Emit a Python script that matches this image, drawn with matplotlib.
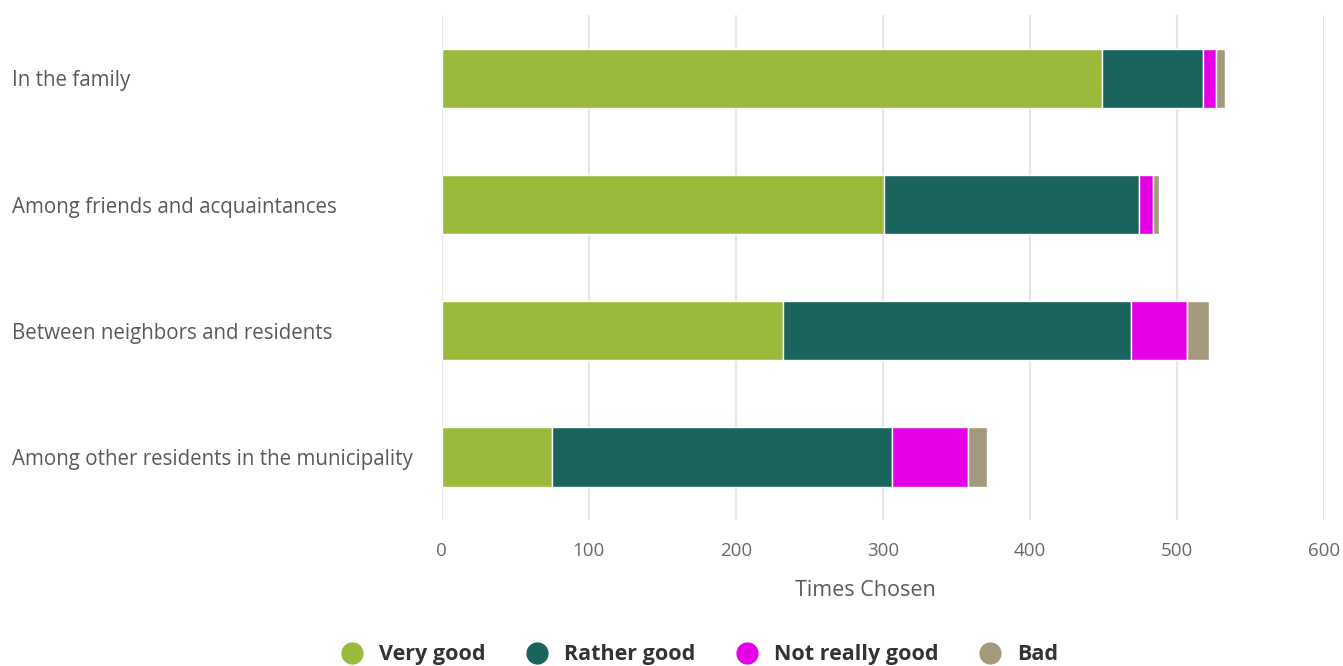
import matplotlib
matplotlib.use("Agg")
from matplotlib import pyplot as plt
from matplotlib.lines import Line2D
import numpy as np

plt.rcParams['font.family'] = ['Open Sans', 'DejaVu Sans']

categories = ["In the family",
              "Among friends and acquaintances",
              "Between neighbors and residents",
              "Among other residents in the municipality"]
series_names = ["Very good", "Rather good", "Not really good", "Bad"]
very_good = [449, 301, 232, 75]
rather_good = [69, 173, 237, 231]
not_really_good = [9, 10, 38, 52]
bad = [6, 4, 15, 13]
colors = ["#9aba3b", "#1a645e", "#e600e6", "#a39a7d"]
xticks = [0, 100, 200, 300, 400, 500, 600]

fig = plt.figure(figsize=(13.43, 6.66), dpi=100)
ax = fig.add_axes([0.329, 0.219, 0.6567, 0.758])

y = np.arange(len(categories))
left = np.zeros(len(categories))
for name, vals, c in zip(series_names, [very_good, rather_good, not_really_good, bad], colors):
    ax.barh(y, vals, left=left, height=0.47, color=c, edgecolor="white", linewidth=1, zorder=3)
    left += np.array(vals)

ax.set_ylim(3.5, -0.5)
ax.set_xlim(0, 600)
ax.set_xticks(xticks)
ax.set_xticklabels([str(t) for t in xticks], fontsize=13.5, color="#6a6a6a")
ax.set_yticks(y)
ax.set_yticklabels(categories, fontsize=14.8, color="#5a5a5a", ha="left")
# pad is in points: 430 px at 100 dpi
ax.tick_params(axis="y", length=0, pad=430 * 0.72)
ax.tick_params(axis="x", length=0, pad=16)
ax.grid(axis="x", color="#e6e6e6", linewidth=1.5, zorder=0)
for s in ax.spines.values():
    s.set_visible(False)
ax.set_xlabel("Times Chosen", fontsize=15.5, color="#5a5a5a")
ax.xaxis.set_label_coords(0.48, -0.119)

handles = [Line2D([], [], marker="o", linestyle="", markersize=15, color=c) for c in colors]
leg = fig.legend(handles, series_names, loc="lower center", ncol=4, bbox_to_anchor=(0.517, -0.028),
                 frameon=False, prop={"size": 15.5, "weight": "bold"}, handletextpad=0.25, columnspacing=1.4)
for t in leg.get_texts():
    t.set_color("#333333")

fig.savefig("out.png", dpi=100)
